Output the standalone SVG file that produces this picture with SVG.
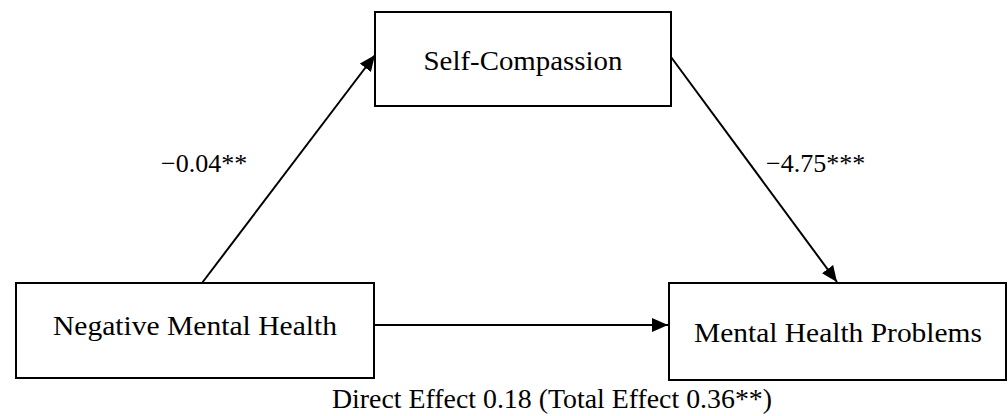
<svg xmlns="http://www.w3.org/2000/svg" width="1008" height="416" viewBox="0 0 1008 416">
<style>
.box{fill:#fff;stroke:#000;stroke-width:2}
.nt{font-family:"Liberation Serif","Times New Roman",serif;font-size:28px;fill:#000;text-anchor:middle}
.lb{font-family:"Liberation Serif","Times New Roman",serif;font-size:26px;fill:#000}
.ed{fill:none;stroke:#000;stroke-width:2}
</style>
<defs>
<marker id="ah" markerUnits="userSpaceOnUse" markerWidth="17" markerHeight="15" refX="16" refY="7" orient="auto">
<path d="M0,0 L16,7 L0,14 z" fill="#000"/>
</marker>
</defs>
<rect width="1008" height="416" fill="#fff"/>
<g id="connectors">
<path class="ed" d="M202,283 L375,55" marker-end="url(#ah)"/>
<path class="ed" d="M671,57 L837,282" marker-end="url(#ah)"/>
<path class="ed" d="M374,325 L668,325" marker-end="url(#ah)"/>
</g>
<g id="node-self-compassion">
<rect class="box" x="375" y="12" width="296" height="94"/>
<text class="nt" x="523" y="70" textLength="199" lengthAdjust="spacingAndGlyphs">Self-Compassion</text>
</g>
<g id="node-negative-mental-health">
<rect class="box" x="16" y="283" width="358" height="95"/>
<text class="nt" x="195" y="335" textLength="284" lengthAdjust="spacingAndGlyphs">Negative Mental Health</text>
</g>
<g id="node-mental-health-problems">
<rect class="box" x="669" y="283" width="337" height="97"/>
<text class="nt" x="838" y="342" textLength="288" lengthAdjust="spacingAndGlyphs">Mental Health Problems</text>
</g>
<g id="labels">
<text class="lb" x="161" y="172">−0.04**</text>
<text class="lb" x="766" y="172">−4.75***</text>
<text class="nt" x="552" y="408" textLength="440" lengthAdjust="spacingAndGlyphs">Direct Effect 0.18 (Total Effect 0.36**)</text>
</g>
</svg>
